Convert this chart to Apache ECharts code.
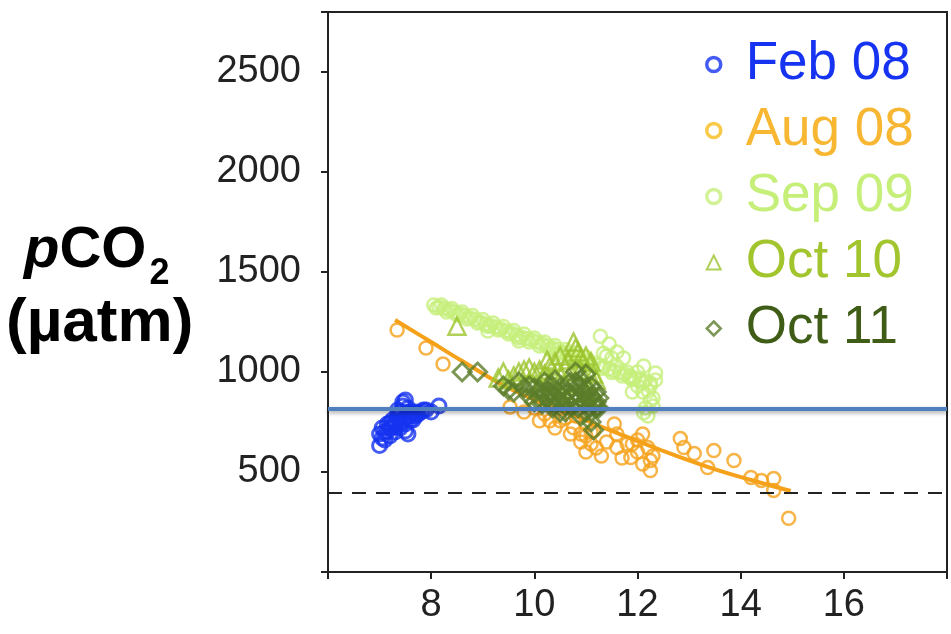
<!DOCTYPE html>
<html>
<head>
<meta charset="utf-8">
<script src="https://cdn.jsdelivr.net/npm/echarts@6/dist/echarts.min.js"></script>
<style>html,body{margin:0;padding:0;background:#fff}#c{width:951px;height:634px}</style>
</head>
<body>
<div id="c"></div>
<script>
// ---- data (temperature vs pCO2) ----
var xTicks = [8, 10, 12, 14, 16];
var yTicks = [500, 1000, 1500, 2000, 2500];
var seriesNames = ['Feb 08', 'Aug 08', 'Sep 09', 'Oct 10', 'Oct 11'];
var atmosphericLevel = 395;
var referenceLevel = 815;

var feb08 = [[7.0,632],[7.0,690],[7.05,720],[7.1,700],[7.15,740],[7.2,720],[7.25,760],[7.3,750],[7.35,780],[7.4,800],[7.45,830],[7.5,860],[7.55,690],[7.5,770],[7.6,800],[7.65,790],[7.7,780],[7.8,800],[7.9,810],[8.0,800],[8.15,830],[7.3,700],[7.4,740],[7.2,680],[7.6,760],[7.45,850],[7.35,810],[7.1,660],[7.25,730],[7.55,820],[7.05,670],[7.15,700],[7.3,725],[7.45,760],[7.5,740],[7.6,780],[7.7,800],[7.4,780],[7.35,760],[7.55,800],[7.65,760],[7.75,790],[7.85,810],[7.2,745],[7.4,720],[7.5,705]];

var aug08 = [[7.34,1210],[7.9,1120],[8.23,1040],[9.53,825],[9.8,800],[10.0,820],[10.1,756],[10.3,756],[10.5,756],[10.6,770],[10.76,721],[10.8,780],[10.9,690],[11.0,740],[10.9,650],[11.1,640],[11.15,706],[11.2,620],[11.0,600],[11.3,580],[11.55,740],[11.6,690],[11.6,622],[11.7,570],[11.8,640],[11.87,572],[12.0,600],[11.9,640],[12.0,660],[12.1,690],[12.1,540],[12.2,622],[12.25,557],[12.25,507],[12.3,580],[12.83,667],[12.9,622],[13.1,592],[13.36,522],[13.48,607],[13.87,557],[14.2,473],[14.4,458],[14.64,467],[14.64,408],[14.93,269],[10.2,790],[10.4,720],[10.7,690],[11.1,700],[11.4,650],[11.0,680]];

var aug08Fit = [[7.3,1260],[8.0,1150],[8.6,1055],[9.5,920],[10.5,810],[11.5,706],[12.5,605],[13.4,522],[14.2,460],[14.97,405]];

var sep09 = [[8.05,1335],[8.15,1325],[8.25,1318],[8.35,1310],[8.45,1300],[8.55,1290],[8.65,1283],[8.75,1270],[8.85,1262],[8.95,1250],[9.05,1240],[9.15,1232],[9.25,1225],[9.35,1215],[9.45,1205],[9.55,1196],[9.65,1185],[9.75,1175],[9.85,1168],[9.95,1160],[10.05,1150],[10.15,1140],[10.25,1130],[10.35,1120],[10.45,1112],[10.55,1100],[10.65,1092],[10.75,1082],[10.85,1072],[10.95,1062],[11.05,1052],[11.15,1045],[11.25,1035],[11.35,1025],[11.45,1015],[11.55,1005],[11.65,998],[11.75,990],[11.85,980],[11.95,970],[12.05,960],[12.15,955],[12.25,945],
  [8.1,1320],[8.3,1300],[8.5,1285],[8.7,1265],[8.9,1245],[9.1,1228],[9.3,1210],[9.5,1190],[9.7,1170],[9.9,1150],[10.1,1130],[10.3,1112],[10.5,1095],[10.7,1075],[10.9,1055],[11.1,1035],[11.3,1018],[11.5,998],[11.7,980],[11.9,962],[12.1,945],
  [8.2,1335],[8.4,1318],[8.6,1300],[8.8,1282],[9.0,1262],[9.2,1245],[9.4,1228],[9.6,1208],[9.8,1190],[10.0,1170],[10.2,1150],[10.4,1132],[10.6,1112],[10.8,1095],[11.0,1075],
  [9.1,1205],[9.7,1155],[10.4,1090],[11.0,1040],[11.28,1179],[11.34,1094],[11.5,1070],[11.73,1070],[11.8,1000],[12.12,1030],[12.35,995],[11.86,970],[12.21,905],[12.25,856],[12.12,796],[12.15,820],[12.2,780],[12.3,870],[12.0,1000],[11.6,1100],[11.4,1080],[12.35,960],[11.9,900],[12.1,900],[11.45,1140],[11.6,1030],[12.0,930],[12.25,930],[12.3,830]];

var oct10 = [[8.5,1229],[9.4,1000],[9.6,980],[9.8,1010],[10.0,1000],[10.2,990],[10.4,1050],[10.5,1080],[10.6,1020],[10.7,1000],[10.76,1150],[10.85,1100],[10.9,1070],[11.0,1080],[11.1,1050],[11.2,960],[10.3,960],[9.9,950],[10.1,920],[10.6,940],[11.0,900],[11.2,870],[10.5,900],[9.5,960],[10.8,1120],[11.05,1000],[9.7,1000],[9.9,1020],[10.1,1010],[10.3,1030],[10.45,1010],[10.65,1060],[10.9,1010],[11.15,990],[9.3,970],[10.25,1060]];

var oct11 = [[8.6,1000],[8.9,1000],[9.4,930],[9.6,900],[9.7,950],[9.8,920],[9.9,880],[10.0,920],[10.0,850],[10.1,870],[10.2,900],[10.2,950],[10.3,850],[10.3,900],[10.4,880],[10.4,960],[10.5,920],[10.5,850],[10.5,800],[10.6,860],[10.6,800],[10.7,830],[10.7,950],[10.8,900],[10.8,850],[10.8,1000],[10.9,870],[10.9,780],[10.9,960],[11.0,840],[11.0,920],[11.0,990],[11.1,880],[11.1,800],[11.1,750],[11.15,710],[11.2,820],[11.2,900],
  [9.5,910],[9.9,930],[10.1,910],[10.15,840],[10.25,870],[10.35,930],[10.45,900],[10.55,880],[10.65,900],[10.75,880],[10.85,930],[10.95,900],[11.05,860],[11.15,850],[11.25,870],[10.35,820],[10.6,830],[10.85,820],[11.0,800],[10.7,870],[10.95,850],[11.2,850],[10.4,840],[10.8,950],[11.1,930],[11.25,820]];

var FONT = '"Liberation Sans", Arial, sans-serif';
var C = {
  feb: '#1533f0', aug: '#f5a11a', augText: '#f7b733', sep: '#c6ef7a', oct10: '#9cc42e', oct10Text: '#a2c42c', oct11: '#5b7d2a', oct11Text: '#3f5d16'
};

var chart = echarts.init(document.getElementById('c'), null, {renderer: 'canvas'});

function scatter(name, data, symbol, size, color, bw) {
  return {
    name: name, type: 'scatter', data: data, symbol: symbol, symbolSize: size,
    itemStyle: {color: 'rgba(0,0,0,0)', borderColor: color, borderWidth: bw},
    emphasis: {disabled: true}
  };
}

var option = {
  animation: false,
  backgroundColor: '#fff',
  grid: {left: 328, right: 4, top: 12, bottom: 62, show: true, borderColor: '#222', borderWidth: 2},
  xAxis: {
    type: 'value', min: 6, max: 18, interval: 2,
    axisLine: {lineStyle: {color: '#222', width: 2}},
    axisTick: {show: true, inside: false, length: 7, lineStyle: {color: '#222', width: 2}},
    splitLine: {show: false},
    axisLabel: {
      fontSize: 38, color: '#222', fontFamily: FONT, margin: 15,
      formatter: function (v) { return xTicks.indexOf(v) >= 0 ? String(v) : ''; }
    }
  },
  yAxis: {
    type: 'value', min: 0, max: 2800, interval: 500,
    axisLine: {lineStyle: {color: '#222', width: 2}},
    axisTick: {show: true, inside: false, length: 7, lineStyle: {color: '#222', width: 2}},
    splitLine: {show: false},
    axisLabel: {
      fontSize: 38, color: '#222', fontFamily: FONT, margin: 27,
      formatter: function (v) { return yTicks.indexOf(v) >= 0 ? String(v) : ''; }
    }
  },
  legend: {
    orient: 'vertical', left: 700, top: 33, itemGap: 13, itemWidth: 14, itemHeight: 14,
    textStyle: {fontSize: 53, fontFamily: FONT, padding: [0, 0, 0, 20]},
    data: [
      {name: seriesNames[0], icon: 'circle', itemStyle: {color: 'rgba(0,0,0,0)', borderColor: C.feb, borderWidth: 3.5}, textStyle: {color: C.feb}},
      {name: seriesNames[1], icon: 'circle', itemStyle: {color: 'rgba(0,0,0,0)', borderColor: '#f7bd1c', borderWidth: 3.5}, textStyle: {color: C.augText}},
      {name: seriesNames[2], icon: 'circle', itemStyle: {color: 'rgba(0,0,0,0)', borderColor: C.sep, borderWidth: 3.5}, textStyle: {color: C.sep}},
      {name: seriesNames[3], icon: 'triangle', itemStyle: {color: 'rgba(0,0,0,0)', borderColor: C.oct10, borderWidth: 2}, textStyle: {color: C.oct10Text}},
      {name: seriesNames[4], icon: 'diamond', itemStyle: {color: 'rgba(0,0,0,0)', borderColor: C.oct11, borderWidth: 2.5}, textStyle: {color: C.oct11Text}}
    ]
  },
  graphic: [
    {type: 'text', left: 24, top: 222, style: {
      text: '{p|p}{c|CO}{s|2}', fill: '#000',
      rich: {
        p: {fontSize: 58, fontWeight: 'bold', fontStyle: 'italic', fontFamily: FONT, fill: '#000'},
        c: {fontSize: 58, fontWeight: 'bold', fontFamily: FONT, fill: '#000'},
        s: {fontSize: 36, fontWeight: 'bold', fontFamily: FONT, fill: '#000', verticalAlign: 'bottom', padding: [0, 0, -12, 3]}
      }
    }},
    {type: 'text', left: 6, top: 293, style: {text: '(\u00b5atm)', fill: '#000', fontSize: 62, fontWeight: 'bold', fontFamily: FONT}}
  ],
  series: [
    scatter(seriesNames[0], feb08, 'circle', 14, C.feb, 3),
    scatter(seriesNames[1], aug08, 'circle', 13, C.aug, 2.5),
    {name: seriesNames[1], type: 'line', data: aug08Fit, smooth: 0.4, symbol: 'none', lineStyle: {color: C.aug, width: 4}, emphasis: {disabled: true}, z: 2},
    scatter(seriesNames[2], sep09, 'circle', 13, C.sep, 2.5),
    scatter(seriesNames[3], oct10, 'triangle', 17, C.oct10, 2.5),
    scatter(seriesNames[4], oct11, 'diamond', 18, C.oct11, 3),
    {
      name: 'ref', type: 'line', data: [], z: 10,
      markLine: {
        silent: true, symbol: 'none', animation: false,
        label: {show: false},
        data: [
          {yAxis: atmosphericLevel, lineStyle: {color: '#222', type: [14, 10], width: 2}},
          {yAxis: referenceLevel, lineStyle: {color: '#4f7fbd', type: 'solid', width: 4, shadowColor: 'rgba(0,0,0,0.35)', shadowBlur: 4, shadowOffsetY: 2}}
        ]
      }
    }
  ]
};
chart.setOption(option);
</script>
</body>
</html>
